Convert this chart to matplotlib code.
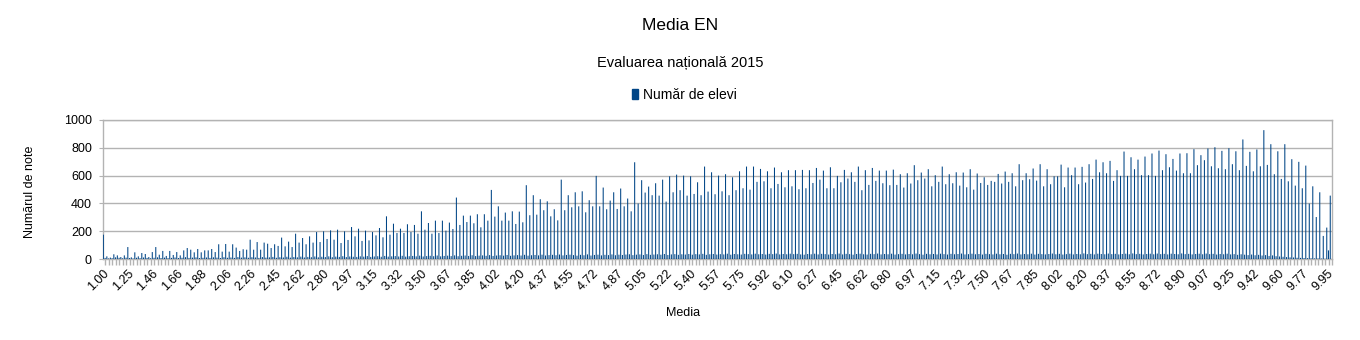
import math
import numpy as np
import matplotlib
matplotlib.use("Agg")
import matplotlib.pyplot as plt
from matplotlib.patches import Patch

plt.rcParams['font.family'] = ['Liberation Sans', 'DejaVu Sans']

# medii sub 2.45 (valori rare, nu toate pe grila de 0.025)
medii_jos = ["1.00", "1.02", "1.05", "1.07", "1.10", "1.15", "1.20", "1.25", "1.27", "1.30",
             "1.32", "1.35", "1.40", "1.42", "1.46", "1.50", "1.52", "1.55", "1.57", "1.60",
             "1.62", "1.66", "1.70", "1.72", "1.75", "1.77", "1.80", "1.85", "1.88", "1.90",
             "1.92", "1.95", "1.97", "2.00", "2.02", "2.06", "2.10", "2.12", "2.15", "2.17",
             "2.20", "2.22", "2.26", "2.30", "2.32", "2.35", "2.37", "2.40", "2.42"]

# numar de elevi pe fiecare medie (seria principala)
elevi = [
    175, 19, 10, 34, 26, 14, 26, 86, 12, 48, 19, 43, 36, 14, 50, 86, 31, 58, 22, 58,
    29, 50, 26, 62, 79, 67, 48, 72, 48, 62, 62, 72, 50, 106, 53, 108, 53, 106, 82, 58,
    70, 67, 139, 67, 122, 67, 118, 110, 79, 106, 94, 154, 91, 125, 86, 182, 118, 151, 106, 163,
    118, 194, 122, 199, 144,
    206, 139, 211, 115, 199, 137, 230, 163, 218, 130, 204, 134, 194, 170, 223, 156, 307, 175, 254, 187,
    218, 187, 250, 194, 245, 182, 343, 211, 259, 182, 276, 187, 276, 204, 262, 216, 442, 245, 312, 266,
    312, 257, 322, 228, 322, 276, 497, 305, 379, 276, 334, 276, 343, 252, 341, 264, 531, 315, 459, 319,
    430, 351, 415, 307, 358, 278, 571, 351, 459,
    372, 480, 379, 487, 336, 423, 379, 598, 379, 514, 358, 420, 480, 360, 507, 379, 435, 343, 696, 399,
    567, 478, 521, 459, 545, 456, 571, 413, 595, 480, 607, 495, 600, 456, 595, 468, 552, 459, 665, 485,
    624, 466, 600, 487, 610, 459, 588, 495, 631, 509, 665, 499, 665, 555, 648, 559, 631, 509, 658, 540,
    624, 516, 639, 523, 639, 502, 641, 509, 639,
    547, 655, 571, 636, 509, 660, 509, 598, 552, 641, 579, 624, 555, 665, 495, 639, 533, 655, 562, 636,
    545, 636, 531, 643, 533, 610, 514, 617, 543, 675, 567, 622, 579, 646, 523, 603, 555, 665, 538, 610,
    545, 624, 528, 622, 516, 646, 499, 615, 547, 588, 533, 562, 555, 612, 543, 629, 555, 617, 523, 682,
    567, 617, 574, 651, 564, 682, 523, 646,
    538, 595, 595, 679, 516, 658, 603, 658, 538, 663, 550, 682, 576, 715, 624, 696, 617, 706, 562, 639,
    598, 773, 598, 732, 646, 715, 603, 737, 603, 759, 598, 780, 639, 754, 660, 720, 636, 759, 617, 761,
    617, 790, 675, 747, 711, 795, 667, 804, 653, 778, 646, 797, 682, 775, 639, 860, 670, 771, 631, 788,
    667, 927, 677, 826, 610, 775, 576, 826, 559, 718, 528, 699, 509, 672, 399, 523, 302, 480, 166, 226,
    456]

# barele mici de langa fiecare medie
elevi_alte = [
    8, 4, 6, 12, 9, 5, 10, 7, 4, 9, 6, 11, 8, 5, 9, 12, 7, 10, 6, 8,
    11, 7, 9, 13, 8, 10, 12, 7, 9, 11, 8, 12, 10, 7, 13, 9, 11, 8, 14, 10,
    12, 9, 13, 11, 8, 14, 10, 12, 15, 9,
    13, 11, 16, 10, 14, 12, 17, 11, 15, 13, 18, 12, 16, 14, 19, 13, 17, 15, 20, 14,
    18, 16, 15, 19, 17, 21, 15, 18, 20, 16, 22, 17, 19, 21, 18, 23, 17, 20, 22, 19,
    24, 18, 21, 23, 20, 25, 19, 22, 24, 21,
    26, 20, 23, 25, 22, 27, 21, 24, 26, 23, 28, 22, 25, 27, 24, 29, 23, 26, 28, 25,
    30, 24, 27, 29, 26, 31, 25, 28, 30, 27, 32, 26, 29, 31, 28, 24, 30, 27, 33, 25,
    29, 31, 26, 30, 28, 33, 27, 31, 29, 32,
    34, 28, 31, 33, 29, 35, 30, 32, 34, 31, 36, 29, 33, 35, 30, 34, 32, 36, 31, 35,
    33, 37, 30, 34, 36, 32, 35, 33, 38, 31, 36, 34, 32, 37, 35, 33, 38, 34, 36, 32,
    37, 35, 39, 33, 36, 34, 38, 35, 37, 33,
    31, 36, 34, 38, 33, 37, 35, 32, 36, 34, 39, 33, 37, 35, 31, 36, 38, 34, 32, 37,
    35, 39, 33, 36, 34, 38, 32, 35, 37, 33, 36, 34, 39, 35, 31, 37, 34, 36, 33, 38,
    35, 32, 37, 34, 36, 39, 33, 35, 38, 34,
    36, 32, 37, 35, 33, 38, 34, 36, 31, 37, 35, 39, 33, 36, 34, 38, 32, 37, 35, 33,
    36, 39, 34, 37, 32, 35, 38, 33, 36, 34, 40, 35, 37, 33, 38, 36, 34, 39, 35, 37,
    33, 36, 38, 34, 40, 35, 37, 33, 36, 38,
    34, 39, 35, 37, 33, 38, 36, 34, 40, 35, 37, 33, 36, 38, 34, 39, 35, 37, 32, 36,
    34, 38, 33, 35, 30, 34, 31, 28, 32, 27, 30, 25, 28, 22, 26, 20,
    18, 16, 14, 12, 11, 9, 8, 7, 6, 5, 4, 4, 3, 2, 62, 0]


def trunc2(v):
    # media se afiseaza cu doua zecimale, trunchiata
    return "%.2f" % (math.floor(v * 100 + 1e-6) / 100)


medii = list(medii_jos)
medii += [trunc2(2.45 + 0.025 * k) for k in range(92)]
medii += ["4.73"]
medii += [trunc2(4.75 + 0.025 * k) for k in range(209)]
medii += ["10.00"]

ALBASTRU = '#004586'
GRI = '#b3b3b3'

fig = plt.figure(figsize=(13.6, 3.4), dpi=100)
ax = fig.add_axes([103 / 1360, 1 - 259 / 340, 1229 / 1360, 139 / 340])

x = np.arange(len(medii))
# snap=False: barele subtiri raman netezite, nu sunt lipite de pixeli
ax.bar(x, elevi, width=0.3, color=ALBASTRU, linewidth=0, zorder=3, snap=False)
ax.bar(x + 0.5, elevi_alte, width=0.3, color=ALBASTRU, linewidth=0, zorder=3, snap=False)

ax.set_xlim(-0.1, len(medii) - 0.8)
ax.set_ylim(0, 1000)
ax.set_yticks(range(0, 1001, 200))
ax.yaxis.grid(True, color=GRI, linewidth=1, zorder=0)
for s in ax.spines.values():
    s.set_color(GRI)
    s.set_linewidth(1)

ax.set_xticks(x[::7])
ax.set_xticklabels(medii[::7], rotation=45, ha='right', va='top',
                   rotation_mode='anchor', fontsize=9)
ax.set_xticks(x + 0.5, minor=True)
ax.tick_params(axis='x', which='major', length=0, pad=6)
ax.tick_params(axis='x', which='minor', length=4, color=GRI, width=1)
ax.tick_params(axis='y', length=3, color=GRI, labelsize=9, pad=5)

fig.text(680 / 1360, 1 - 25 / 340, "Media EN", ha='center', va='center', fontsize=12.5)
fig.text(680 / 1360, 1 - 63 / 340, "Evaluarea națională 2015", ha='center', va='center', fontsize=10.5)
fig.legend(handles=[Patch(color=ALBASTRU)], labels=["Număr de elevi"], loc='center',
           bbox_to_anchor=(684 / 1360, 1 - 95 / 340), frameon=False, fontsize=10,
           handlelength=0.5, handleheight=0.7, handletextpad=0.3)
fig.text(683 / 1360, 1 - 313 / 340, "Media", ha='center', va='center', fontsize=9)
fig.text(30 / 1360, 1 - 192 / 340, "Numărul de note", ha='center', va='center',
         rotation=90, fontsize=9)

fig.savefig('out.png', dpi=100)
